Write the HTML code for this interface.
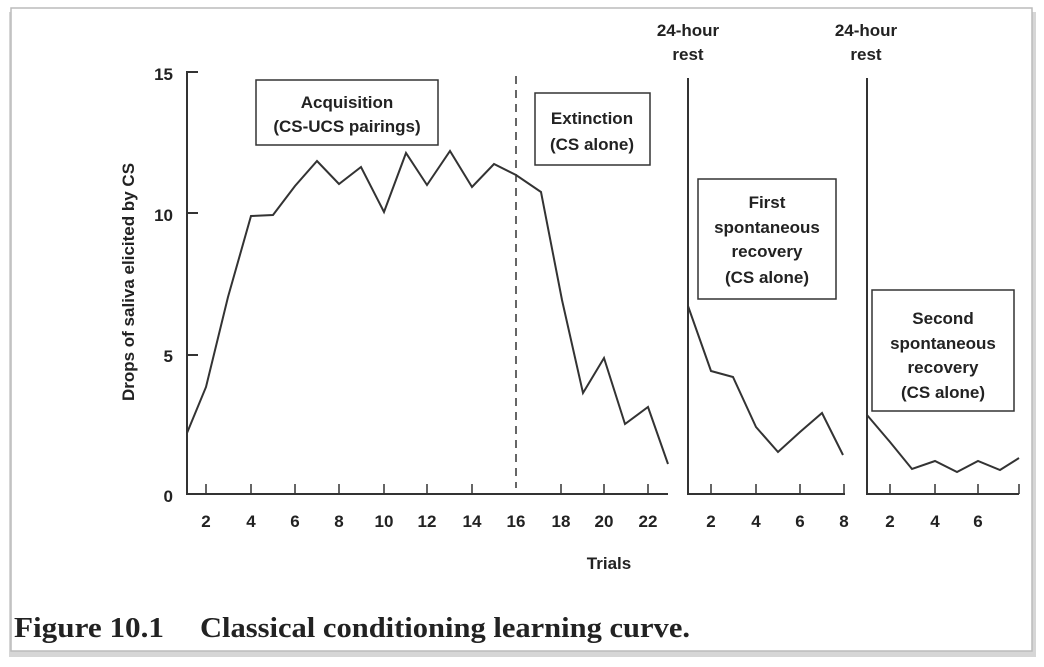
<!DOCTYPE html>
<html><head><meta charset="utf-8"><style>
html,body{margin:0;padding:0;background:#fff;width:1044px;height:667px;overflow:hidden}
svg{display:block}
text{font-family:"Liberation Sans",sans-serif;fill:#222}
</style></head><body>
<svg width="1044" height="667" viewBox="0 0 1044 667">
<rect x="9" y="12" width="1027" height="645" fill="#bbb" opacity="0.6"/>
<rect x="11" y="8" width="1021" height="643" fill="#fff" stroke="#bbb" stroke-width="1.5"/>
<g stroke="#333" stroke-width="2" fill="none">
<polyline points="198,72 187,72 187,494 668,494"/>
<line x1="187" y1="213" x2="198" y2="213"/>
<line x1="187" y1="355" x2="198" y2="355"/>
<g stroke-width="1.5">
<path d="M206,494v-10M251,494v-10M295,494v-10M339,494v-10M384,494v-10M427,494v-10M472,494v-10M561,494v-10M604,494v-10M648,494v-10"/>
<path d="M711,494v-10M756,494v-10M800,494v-10M844,494v-10"/>
<path d="M890,494v-10M935,494v-10M978,494v-10M1019,494v-10"/>
</g>
<line x1="516" y1="76" x2="516" y2="488" stroke-dasharray="8,6" stroke-width="1.5"/>
<polyline stroke-width="2" points="187,433 206,387 228,297 251,216 273,215 295,186 317,161 339,184 361,167 384,212 406,153 427,185 450,151 472,187 494,164 516,175 541,192 562,300 583,393 604,358 625,424 648,407 668,464"/>
<polyline points="688,78 688,494 845,494"/>
<polyline points="688,306 711,371 733,377 756,427 778,452 800,432 822,413 843,455"/>
<polyline points="867,78 867,494 1019,494"/>
<polyline points="867,415 890,442 912,469 935,461 957,472 978,461 1000,470 1019,458"/>
<rect x="256" y="80" width="182" height="65" stroke-width="1.5"/>
<rect x="535" y="93" width="115" height="72" stroke-width="1.5"/>
<rect x="698" y="179" width="138" height="120" stroke-width="1.5"/>
<rect x="872" y="290" width="142" height="121" stroke-width="1.5"/>
</g>
<g font-size="17" text-anchor="middle" font-weight="bold">
<text x="347" y="108">Acquisition</text>
<text x="347" y="132">(CS-UCS pairings)</text>
<text x="592" y="124">Extinction</text>
<text x="592" y="150">(CS alone)</text>
<text x="767" y="208">First</text>
<text x="767" y="233">spontaneous</text>
<text x="767" y="257">recovery</text>
<text x="767" y="283">(CS alone)</text>
<text x="943" y="324">Second</text>
<text x="943" y="349">spontaneous</text>
<text x="943" y="373">recovery</text>
<text x="943" y="398">(CS alone)</text>
<text x="688" y="36">24-hour</text>
<text x="688" y="60">rest</text>
<text x="866" y="36">24-hour</text>
<text x="866" y="60">rest</text>
<text x="609" y="569">Trials</text>
<text x="134" y="282" transform="rotate(-90 134 282)">Drops of saliva elicited by CS</text>
</g>
<g font-size="17" font-weight="bold" text-anchor="end">
<text x="173" y="80">15</text>
<text x="173" y="221">10</text>
<text x="173" y="362">5</text>
<text x="173" y="502">0</text>
</g>
<g font-size="17" font-weight="bold" text-anchor="middle">
<text x="206" y="527">2</text><text x="251" y="527">4</text><text x="295" y="527">6</text><text x="339" y="527">8</text>
<text x="384" y="527">10</text><text x="427" y="527">12</text><text x="472" y="527">14</text><text x="516" y="527">16</text>
<text x="561" y="527">18</text><text x="604" y="527">20</text><text x="648" y="527">22</text>
<text x="711" y="527">2</text><text x="756" y="527">4</text><text x="800" y="527">6</text><text x="844" y="527">8</text>
<text x="890" y="527">2</text><text x="935" y="527">4</text><text x="978" y="527">6</text>
</g>
<text x="14" y="637" font-size="28" font-weight="bold" textLength="150" lengthAdjust="spacingAndGlyphs" style="font-family:'Liberation Serif',serif">Figure 10.1</text>
<text x="200" y="637" font-size="28" font-weight="bold" textLength="490" lengthAdjust="spacingAndGlyphs" style="font-family:'Liberation Serif',serif">Classical conditioning learning curve.</text>
</svg>
</body></html>
